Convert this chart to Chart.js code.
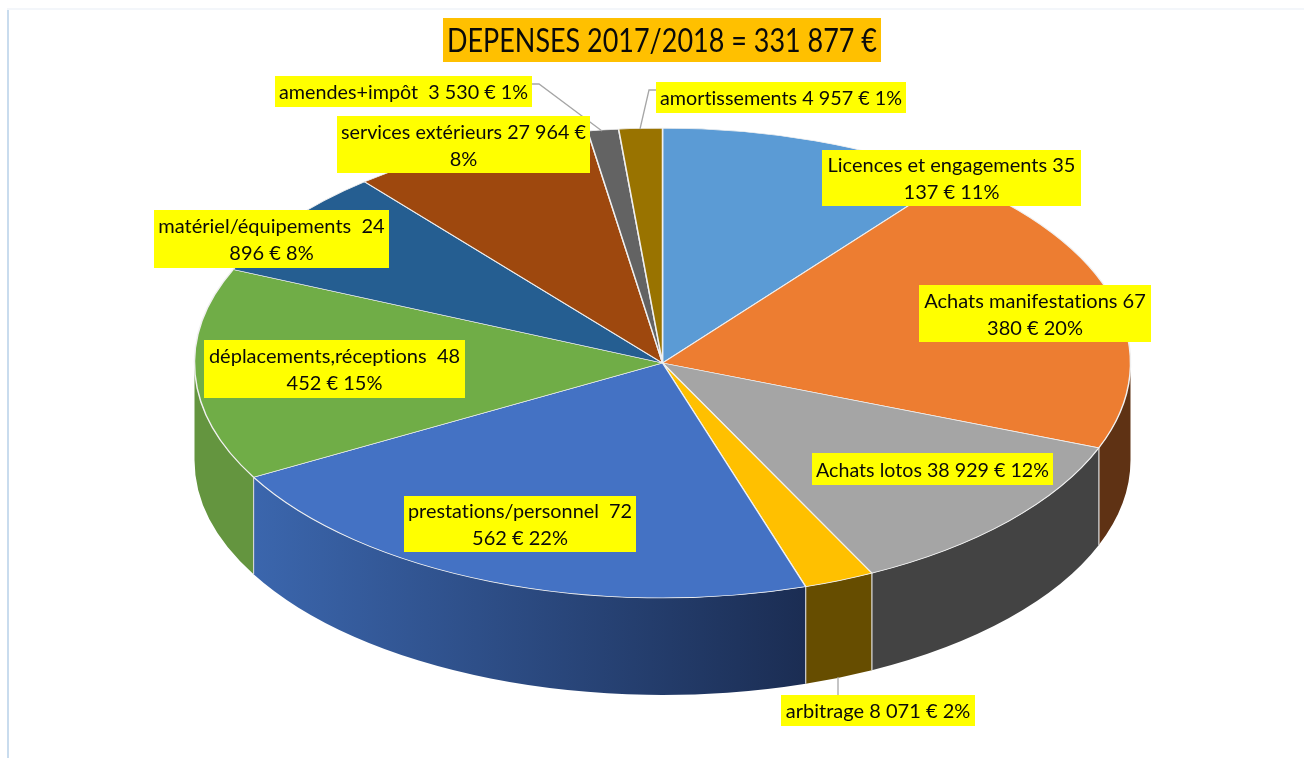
<!DOCTYPE html>
<html>
<head>
<meta charset="utf-8">
<style>
  html, body { margin: 0; padding: 0; background: #fff; overflow: hidden; }
  #wrap { width: 1304px; height: 758px; position: relative; }
</style>
</head>
<body>
<div id="wrap"><canvas id="pie" width="1304" height="758"></canvas></div>
<script src="https://cdn.jsdelivr.net/npm/chart.js@4"></script>
<script>
const titleText = "DEPENSES 2017/2018 = 331 877 €";

const categories = ["Licences et engagements", "Achats manifestations", "Achats lotos", "arbitrage",
  "prestations/personnel", "déplacements,réceptions", "matériel/équipements", "services extérieurs",
  "amendes+impôt", "amortissements"];
const values = [35137, 67380, 38929, 8071, 72562, 48452, 24896, 27964, 3530, 4957];

const labelLines = [
  ["Licences et engagements 35", "137 € 11%"],
  ["Achats manifestations 67", "380 € 20%"],
  ["Achats lotos 38 929 € 12%"],
  ["arbitrage 8 071 € 2%"],
  ["prestations/personnel  72", "562 € 22%"],
  ["déplacements,réceptions  48", "452 € 15%"],
  ["matériel/équipements  24", "896 € 8%"],
  ["services extérieurs 27 964 €", "8%"],
  ["amendes+impôt  3 530 € 1%"],
  ["amortissements 4 957 € 1%"]
];

const topColors = ["#5b9bd5", "#ed7d31", "#a5a5a5", "#ffc000", "#4472c4", "#70ad47", "#255e91", "#9e480e", "#636363", "#997300"];
const wallColors = ["#3a6590", "#5f3214", "#434343", "#664d00", ["#3b66ad", "#1b2d53"], "#64953f", "#1a4268", "#6a300a", "#444444", "#664d00"];

// label boxes: left, top, right, bottom
const labelBoxes = [
  [822, 150, 1081, 206], [919, 285, 1151, 342], [812, 453, 1053, 485], [781, 695, 975, 726],
  [404, 496, 636, 552], [204, 340, 465, 398], [154, 210, 389, 268], [337, 116, 590, 173],
  [275, 76, 532, 107], [656, 82, 906, 113]
];
const leaderLines = [
  [[532, 84], [539, 84], [602, 131]],
  [[656, 90], [649, 90], [640, 129]],
  [[838, 677], [838, 695]]
];

const RX = 468;
const SQUASH = 0.502;
const DEPTH = 97;

function drawWalls(ctx, arcs) {
  const ry = RX * SQUASH;
  arcs.forEach((arc, i) => {
    const a0 = Math.max(arc.startAngle, 0);
    const a1 = Math.min(arc.endAngle, Math.PI);
    if (a1 <= a0) return;
    const x0 = arc.x + Math.cos(a0) * RX;
    const x1 = arc.x + Math.cos(a1) * RX;
    ctx.beginPath();
    ctx.ellipse(arc.x, arc.y, RX, ry, 0, a0, a1);
    ctx.ellipse(arc.x, arc.y + DEPTH, RX, ry, 0, a1, a0, true);
    ctx.closePath();
    const col = wallColors[i];
    if (Array.isArray(col)) {
      const g = ctx.createLinearGradient(x1, 0, x0, 0);
      g.addColorStop(0, col[0]);
      g.addColorStop(1, col[1]);
      ctx.fillStyle = g;
    } else {
      ctx.fillStyle = col;
    }
    ctx.fill();
    // thin light seams between the wall pieces
    ctx.strokeStyle = "#d9d9d9";
    ctx.lineWidth = 1;
    [a0, a1].forEach(a => {
      if (a === 0 || a === Math.PI) return;
      const x = arc.x + Math.cos(a) * RX;
      const y = arc.y + Math.sin(a) * ry;
      ctx.beginPath();
      ctx.moveTo(x, y);
      ctx.lineTo(x, y + DEPTH);
      ctx.stroke();
    });
  });
}

function drawBox(ctx, box, lines, fill, font, lineHeight, maxWidth) {
  ctx.fillStyle = fill;
  ctx.fillRect(box[0], box[1], box[2] - box[0], box[3] - box[1]);
  ctx.fillStyle = "#0a0a0a";
  ctx.font = font;
  ctx.letterSpacing = "0.01px"; // keeps Lato from joining "ti" into a ligature
  ctx.textAlign = "center";
  ctx.textBaseline = "middle";
  const cx = (box[0] + box[2]) / 2;
  const cy = (box[1] + box[3]) / 2 + 1.5;
  lines.forEach((t, i) => {
    ctx.fillText(t, cx, cy + (i - (lines.length - 1) / 2) * lineHeight, maxWidth);
  });
}

const pie3d = {
  id: "pie3d",
  beforeDraw(chart) {
    const ctx = chart.ctx;
    ctx.fillStyle = "#c9dcee";
    ctx.fillRect(7, 8, 2, 750);
    ctx.fillStyle = "#f3f6fa";
    ctx.fillRect(7, 8, 1297, 2);
  },
  beforeDatasetsDraw(chart) {
    const ctx = chart.ctx;
    const arcs = chart.getDatasetMeta(0).data;
    drawWalls(ctx, arcs);
    ctx.save();
    ctx.translate(arcs[0].x, arcs[0].y);
    ctx.scale(1, SQUASH);
    ctx.translate(-arcs[0].x, -arcs[0].y);
  },
  afterDatasetsDraw(chart) {
    const ctx = chart.ctx;
    ctx.restore();

    ctx.strokeStyle = "#a6a6a6";
    ctx.lineWidth = 1.3;
    leaderLines.forEach(pts => {
      ctx.beginPath();
      pts.forEach((p, i) => (i ? ctx.lineTo(p[0], p[1]) : ctx.moveTo(p[0], p[1])));
      ctx.stroke();
    });

    labelBoxes.forEach((box, i) => {
      drawBox(ctx, box, labelLines[i], "#ffff00", "20px Lato", 27, box[2] - box[0] - 8);
    });
    drawBox(ctx, [443, 18, 881, 62], [titleText], "#ffc000", "33px Lato", 30, 430);
  }
};

new Chart(document.getElementById("pie").getContext("2d"), {
  type: "pie",
  data: {
    labels: categories,
    datasets: [{
      data: values,
      backgroundColor: topColors,
      borderColor: "#f0f0f0",
      borderWidth: 1.5,
      clip: false
    }]
  },
  options: {
    responsive: false,
    animation: false,
    radius: RX,
    layout: { padding: { left: 21, bottom: 32 } },
    plugins: { legend: { display: false }, tooltip: { enabled: false } }
  },
  plugins: [pie3d]
});
</script>
</body>
</html>
